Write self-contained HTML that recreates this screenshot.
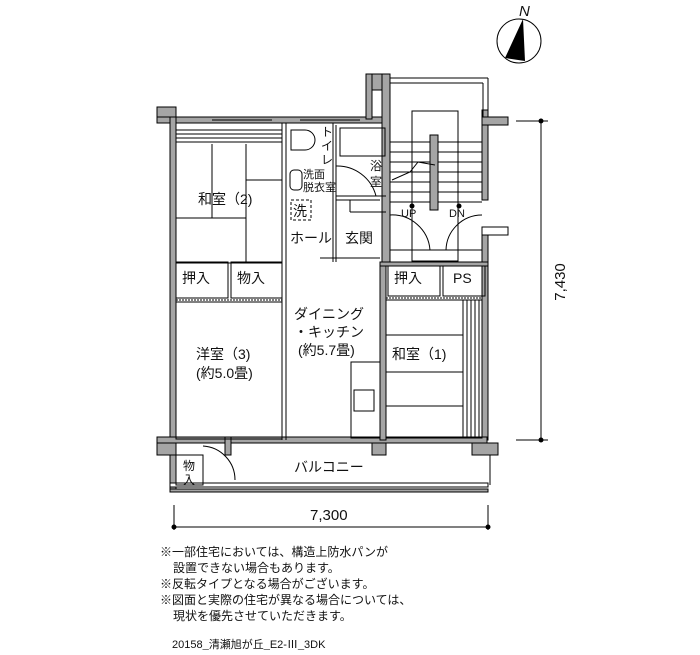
<!DOCTYPE html><html><head><meta charset="utf-8"><style>
body{margin:0;background:#fff;width:700px;height:650px;overflow:hidden}
svg text{font-family:"Liberation Sans","Noto Sans CJK JP",sans-serif;fill:#111}
</style></head><body>
<svg width="700" height="650" viewBox="0 0 700 650" xmlns="http://www.w3.org/2000/svg">
<g stroke="#000" stroke-width="1" fill="#a5a5a5">
<rect x="157" y="107" width="19" height="16"/>
<rect x="157" y="117" width="232" height="6"/>
<rect x="170" y="117" width="6" height="375"/>
<rect x="366" y="74" width="22" height="16"/>
<rect x="366" y="74" width="6" height="45"/>
<rect x="382" y="74" width="8" height="190"/>
<rect x="482" y="110" width="6" height="90"/>
<rect x="482" y="117" width="26" height="8"/>
<rect x="482" y="227" width="6" height="213"/>
<rect x="482" y="227" width="26" height="8" fill="#fff"/>
<rect x="157" y="437" width="330" height="6"/>
<rect x="157" y="443" width="19" height="12"/>
<rect x="372" y="443" width="14" height="12"/>
<rect x="472" y="443" width="26" height="12"/>
<rect x="225" y="437" width="6" height="18"/>
<rect x="170" y="483" width="318" height="4" fill="#fff"/>
<rect x="170" y="489" width="318" height="3"/>
<rect x="380" y="262" width="6" height="178"/>
<rect x="380" y="262" width="108" height="4"/>
</g>
<g stroke="#000" stroke-width="1" fill="none">
<!-- stair enclosure top -->
<line x1="390" y1="78" x2="488" y2="78"/><line x1="390" y1="83" x2="483" y2="83"/>
<line x1="488" y1="78" x2="488" y2="117"/><line x1="483" y1="83" x2="483" y2="117"/>
<line x1="212" y1="120" x2="272" y2="120"/>
<line x1="300" y1="120" x2="360" y2="120"/>
<rect x="176" y="123" width="106" height="140"/>
<line x1="176" y1="130" x2="282" y2="130"/><line x1="176" y1="134" x2="282" y2="134"/><line x1="176" y1="138" x2="282" y2="138"/><line x1="176" y1="142" x2="282" y2="142"/>
<line x1="212" y1="144" x2="212" y2="218"/><line x1="246" y1="144" x2="246" y2="262"/>
<line x1="176" y1="218" x2="246" y2="218"/><line x1="246" y1="180" x2="282" y2="180"/>
<rect x="176" y="262" width="52" height="36"/><rect x="231" y="262" width="51" height="36"/>
<line x1="176" y1="300" x2="282" y2="300" stroke-dasharray="2,1"/>
<rect x="176" y="302" width="106" height="137"/>
<line x1="282" y1="140" x2="282" y2="440"/><line x1="286" y1="262" x2="286" y2="440"/>
<line x1="286" y1="123" x2="286" y2="262"/>
<path d="M291 130 h14 a6 6 0 0 1 0 20 h-14 z"/>
<rect x="290" y="170" width="12" height="20" rx="4"/>
<rect x="291" y="200" width="20" height="20" stroke-dasharray="3,2"/>
<line x1="333" y1="123" x2="333" y2="262"/><line x1="336" y1="125" x2="336" y2="200"/>
<rect x="340" y="128" width="45" height="28"/>
<path d="M336 166 a40 40 0 0 1 40 30"/>
<line x1="336" y1="196" x2="386" y2="196"/>
<line x1="336" y1="200" x2="380" y2="200"/>
<line x1="350" y1="200" x2="350" y2="212"/><line x1="350" y1="212" x2="386" y2="212"/>
<line x1="336" y1="200" x2="336" y2="262"/>
<line x1="320" y1="258" x2="380" y2="258"/>
<rect x="412" y="111" width="46" height="150"/>
<line x1="390" y1="142" x2="482" y2="142"/><line x1="390" y1="152" x2="482" y2="152"/><line x1="390" y1="162" x2="482" y2="162"/><line x1="390" y1="172" x2="482" y2="172"/><line x1="390" y1="182" x2="482" y2="182"/><line x1="390" y1="192" x2="482" y2="192"/><line x1="390" y1="202" x2="482" y2="202"/>
<rect x="430" y="135" width="8" height="75" fill="#a5a5a5"/>
<polyline points="392,180 410,172 418,162 435,165"/>
<path d="M390 215 a38 38 0 0 1 40 35 M482 215 a36 36 0 0 0 -36 35"/>
<line x1="390" y1="250" x2="482" y2="250"/>
<rect x="388" y="266" width="52" height="30"/><rect x="443" y="266" width="42" height="30"/>
<line x1="386" y1="298" x2="482" y2="298" stroke-dasharray="2,1"/>
<rect x="386" y="300" width="96" height="138"/>
<line x1="386" y1="335" x2="463" y2="335"/><line x1="386" y1="372" x2="463" y2="372"/><line x1="386" y1="406" x2="463" y2="406"/>
<line x1="463" y1="300" x2="463" y2="438"/><line x1="467" y1="300" x2="467" y2="438"/><line x1="471" y1="300" x2="471" y2="438"/><line x1="475" y1="300" x2="475" y2="438"/><line x1="479" y1="300" x2="479" y2="438"/>
<rect x="351" y="362" width="29" height="76"/><rect x="354" y="390" width="20" height="21"/>
<rect x="176" y="455" width="27" height="30"/>
<path d="M203 446 a34 34 0 0 1 32 34"/>
<line x1="490" y1="455" x2="490" y2="485"/>
<line x1="541" y1="121" x2="541" y2="440"/><line x1="516" y1="121" x2="548" y2="121"/><line x1="516" y1="440" x2="548" y2="440"/>
<line x1="174" y1="527" x2="488" y2="527"/><line x1="174" y1="505" x2="174" y2="530"/><line x1="488" y1="505" x2="488" y2="530"/>
<circle cx="519" cy="41" r="22"/>
</g>
<g fill="#000">
<circle cx="541" cy="121" r="2.5"/><circle cx="541" cy="440" r="2.5"/>
<circle cx="174" cy="527" r="2.5"/><circle cx="488" cy="527" r="2.5"/>
<circle cx="412" cy="206" r="2.5"/><circle cx="459" cy="206" r="2.5"/>
<polygon points="523,19 505,58 525,61"/>
</g>
<g font-size="14">
<text x="198" y="204">和室（2)</text>
<text x="182" y="283">押入</text><text x="237" y="283">物入</text>
<text x="196" y="359">洋室（3)</text><text x="196" y="378">(約5.0畳)</text>
<text x="294" y="319">ダイニング</text><text x="294" y="337">・キッチン</text><text x="298" y="355">(約5.7畳)</text>
<text x="392" y="359">和室（1)</text>
<text x="394" y="283">押入</text><text x="453" y="283">PS</text>
<text x="290" y="243">ホール</text><text x="345" y="243">玄関</text>
<text x="293" y="216">洗</text>
<text x="294" y="472">バルコニー</text>
<text x="183" y="470" font-size="12">物</text><text x="183" y="484" font-size="12">入</text>
<text x="370" y="170" font-size="12">浴</text><text x="370" y="186" font-size="12">室</text>
<text x="303" y="178" font-size="11">洗面</text><text x="303" y="191" font-size="11">脱衣室</text>
<text x="321" y="136" font-size="12">ト</text><text x="321" y="150" font-size="12">イ</text><text x="321" y="164" font-size="12">レ</text>
<text x="401" y="217" font-size="11">UP</text><text x="449" y="217" font-size="11">DN</text>
<text x="310" y="520" font-size="15">7,300</text>
<text x="519" y="16" font-size="15" font-style="italic">N</text>
<text transform="translate(565,282) rotate(-90)" font-size="15" text-anchor="middle">7,430</text>
</g>
<g font-size="12">
<text x="160" y="556">※一部住宅においては、構造上防水パンが</text>
<text x="173" y="572">設置できない場合もあります。</text>
<text x="160" y="588">※反転タイプとなる場合がございます。</text>
<text x="160" y="604">※図面と実際の住宅が異なる場合については、</text>
<text x="173" y="620">現状を優先させていただきます。</text>
<text x="172" y="648" font-size="11">20158_清瀬旭が丘_E2-Ⅲ_3DK</text>
</g>
</svg>
</body></html>
